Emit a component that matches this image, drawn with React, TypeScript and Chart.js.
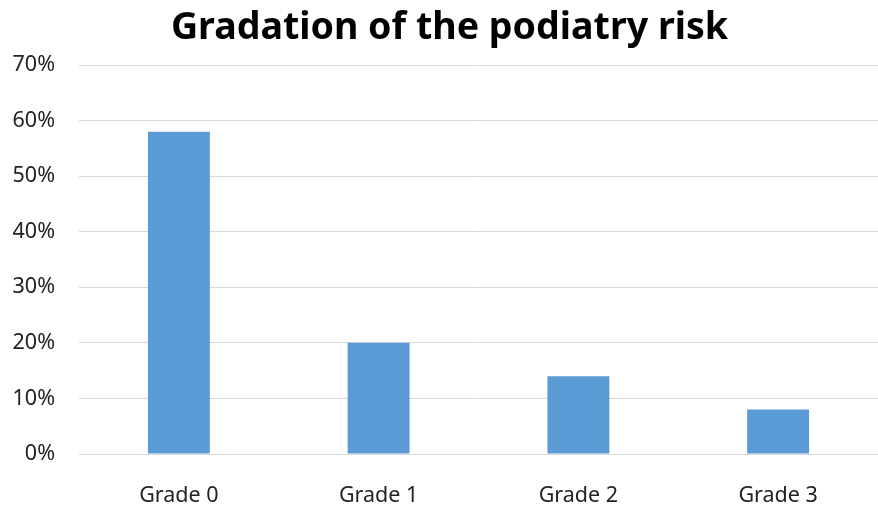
import React, { useEffect, useRef } from "react";
import { Chart, registerables } from "chart.js";

Chart.register(...registerables);

const categories = ["Grade 0", "Grade 1", "Grade 2", "Grade 3"];
const values = [0.58, 0.2, 0.14, 0.08];
const chartTitle = "Gradation of the podiatry risk";

const font = "'Noto Sans', 'Open Sans', sans-serif";

const titlePlugin = {
  id: "offsetTitle",
  afterDraw(chart: any) {
    const ctx = chart.ctx;
    ctx.save();
    ctx.font = `bold 37.6px ${font}`;
    ctx.fillStyle = "#000";
    ctx.textAlign = "center";
    ctx.textBaseline = "middle";
    ctx.fillText(chartTitle, 449.5, 28);
    ctx.restore();
  },
};

export default function App() {
  const ref = useRef<HTMLCanvasElement | null>(null);
  useEffect(() => {
    if (!ref.current) return;
    const chart = new Chart(ref.current, {
      type: "bar",
      data: {
        labels: categories,
        datasets: [
          {
            data: values,
            backgroundColor: "#5B9BD5",
            borderWidth: 0,
            barPercentage: 0.31,
            categoryPercentage: 1,
          },
        ],
      },
      plugins: [titlePlugin],
      options: {
        animation: false,
        responsive: false,
        maintainAspectRatio: false,
        layout: { padding: { left: 0, right: 0, top: 65, bottom: 0 } },
        plugins: {
          legend: { display: false },
          tooltip: { enabled: false },
          title: { display: false },
        },
        scales: {
          x: {
            grid: { display: false, drawTicks: false },
            border: { display: true, color: "#d9d9d9", width: 1 },
            ticks: {
              color: "#222",
              font: { family: font, size: 21.5 },
              padding: 29,
            },
            afterFit: (s: any) => {
              s.height = 51;
            },
          },
          y: {
            min: 0,
            max: 0.7,
            grid: { color: "#d9d9d9", lineWidth: 1, drawTicks: false },
            border: { display: false },
            ticks: {
              stepSize: 0.1,
              color: "#222",
              font: { family: font, size: 21.5 },
              padding: 24,
              callback: (v: any) => Math.round(Number(v) * 100) + "%",
            },
            afterFit: (s: any) => {
              s.width = 79;
            },
          },
        },
      },
    });
    return () => chart.destroy();
  }, []);
  return (
    <div style={{ position: "absolute", left: 0, top: 0, width: 878, height: 505, background: "#fff" }}>
      <canvas ref={ref} width={878} height={505} style={{ width: 878, height: 505 }} />
    </div>
  );
}
